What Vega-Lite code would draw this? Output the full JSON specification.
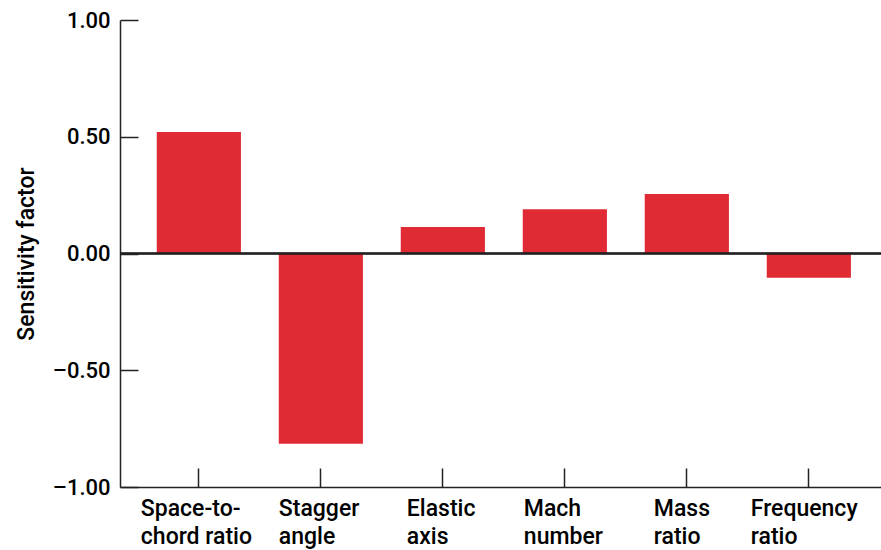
{
  "$schema": "https://vega.github.io/schema/vega-lite/v6.json",
  "width": 761,
  "height": 467,
  "autosize": {"type": "none"},
  "padding": {"left": 120, "top": 20, "right": 0, "bottom": 63},
  "background": "white",
  "config": {
    "view": {"stroke": null},
    "font": "Roboto"
  },
  "data": {
    "values": [
      {"parameter": "Space-to-chord ratio", "sensitivity": 0.52},
      {"parameter": "Stagger angle", "sensitivity": -0.815},
      {"parameter": "Elastic axis", "sensitivity": 0.113},
      {"parameter": "Mach number", "sensitivity": 0.19},
      {"parameter": "Mass ratio", "sensitivity": 0.255},
      {"parameter": "Frequency ratio", "sensitivity": -0.104}
    ]
  },
  "layer": [
    {
      "mark": {"type": "bar", "color": "#E02B35"},
      "encoding": {
        "x": {
          "field": "parameter",
          "type": "nominal",
          "sort": null,
          "scale": {"paddingInner": 0.31, "paddingOuter": 0.274, "align": 0.55},
          "axis": {
            "title": null,
            "orient": "bottom",
            "offset": 0,
            "domainColor": "#222",
            "domainWidth": 1.5,
            "tickColor": "#222",
            "tickWidth": 1.5,
            "tickSize": -19,
            "labelAngle": 0,
            "labelFontSize": 23,
            "labelFontWeight": 500,
            "labelColor": "black",
            "labelPadding": 29,
            "labelLineHeight": 28,
            "labelBaseline": "top",
            "labelAlign": "left",
            "labelOffset": {
              "condition": [
                {"test": "datum.value == 'Space-to-chord ratio'", "value": -58},
                {"test": "datum.value == 'Stagger angle'", "value": -42},
                {"test": "datum.value == 'Elastic axis'", "value": -36},
                {"test": "datum.value == 'Mach number'", "value": -41},
                {"test": "datum.value == 'Mass ratio'", "value": -33}
              ],
              "value": -58
            },
            "labelExpr": "datum.value == 'Space-to-chord ratio' ? ['Space-to-', 'chord ratio'] : split(datum.value, ' ')"
          }
        },
        "y": {
          "field": "sensitivity",
          "type": "quantitative",
          "scale": {"domain": [-1, 1], "nice": false},
          "axis": {
            "title": "Sensitivity factor",
            "titleFontSize": 23,
            "titleFontWeight": 500,
            "titleColor": "black",
            "titlePadding": 14,
            "values": [-1, -0.5, 0, 0.5, 1],
            "domainColor": "#222",
            "domainWidth": 1.5,
            "tickColor": "#222",
            "tickWidth": 1.5,
            "tickSize": -18,
            "labelFontSize": 22,
            "labelFontWeight": 500,
            "labelColor": "black",
            "labelPadding": 28,
            "labelExpr": "(datum.value < 0 ? '–' : '') + format(abs(datum.value), '.2f')",
            "grid": false
          }
        }
      }
    },
    {
      "mark": {"type": "rule", "color": "#222", "strokeWidth": 1.5},
      "encoding": {"y": {"datum": 0}}
    }
  ]
}
